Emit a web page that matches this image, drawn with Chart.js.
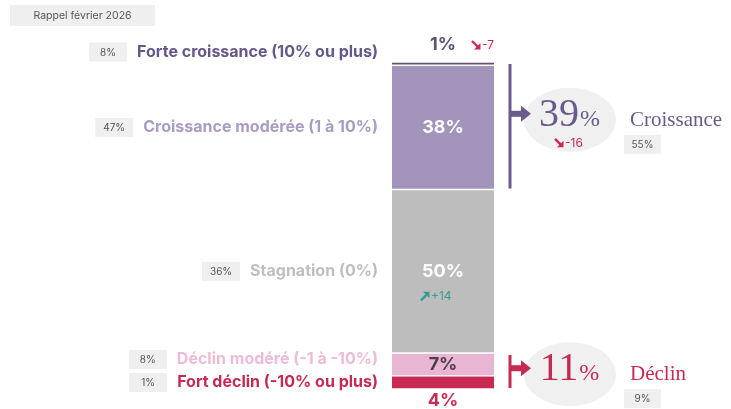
<!DOCTYPE html>
<html lang="fr">
<head>
<meta charset="UTF-8">
<title>Rappel février 2026</title>
<script src="https://cdn.jsdelivr.net/npm/chart.js"></script>
<style>
  html, body { margin: 0; padding: 0; background: #fff; }
  #wrap { width: 731px; height: 409px; position: relative; }
</style>
</head>
<body>
<div id="wrap"><canvas id="chart"></canvas></div>
<script>
// data
const categories = [
  'Forte croissance (10% ou plus)',
  'Croissance modérée (1 à 10%)',
  'Stagnation (0%)',
  'Déclin modéré (-1 à -10%)',
  'Fort déclin (-10% ou plus)'
];
const values = [1, 38, 50, 7, 4];
const rappel = [8, 47, 36, 8, 1];
const evolution = [-7, null, 14, null, null];
const rappelTitle = 'Rappel février 2026';

const groupNames = ['Croissance', 'Déclin'];
const groupMembers = [[0, 1], [3, 4]];
const groupValues = [39, 11];
const groupRappel = [55, 9];
const groupEvolution = [-16, null];

// styles
const segColors = ['#5f5273', '#a394bc', '#bdbdbd', '#e8b6d2', '#c92a52'];
const labelColors = ['#65578a', '#a99cc4', '#bfbfbf', '#eebbd6', '#c62a52'];
const valueColors = ['#5f5273', '#ffffff', '#ffffff', '#4d3c4c', '#c92a52'];
const groupColors = ['#6b5b8c', '#c62a52'];
const RED = '#c92a52', TEAL = '#3a9a8f';
const SANS = 'Inter, "Noto Sans", sans-serif';
const SERIF = '"Liberation Serif", "DejaVu Serif", serif';

function greyBox(ctx, x, y, w, h, text, size) {
  ctx.fillStyle = '#efefef';
  ctx.fillRect(x, y, w, h);
  ctx.fillStyle = '#555';
  ctx.font = `400 ${size}px ${SANS}`;
  ctx.textAlign = 'center';
  ctx.textBaseline = 'middle';
  ctx.fillText(text, x + w / 2, y + h / 2 + 0.5);
}

function smallArrow(ctx, x, y, up, color) {
  // 8x8 diagonal arrow, (x,y) = centre
  ctx.save();
  ctx.strokeStyle = color;
  ctx.fillStyle = color;
  ctx.lineWidth = 2.4;
  const s = up ? -1 : 1;
  ctx.beginPath();
  ctx.moveTo(x - 4, y - 4 * s);
  ctx.lineTo(x + 2, y + 2 * s);
  ctx.stroke();
  ctx.beginPath();
  ctx.moveTo(x + 4.5, y + 4.5 * s);
  ctx.lineTo(x + 4.5, y - 2 * s);
  ctx.lineTo(x - 2, y + 4.5 * s);
  ctx.closePath();
  ctx.fill();
  ctx.restore();
}

const annotations = {
  id: 'annotations',
  afterDraw(chart) {
    const ctx = chart.ctx;
    const area = chart.chartArea;
    ctx.save();

    greyBox(ctx, 10, 5, 145, 21, rappelTitle, 10.5);

    const segs = values.map((v, i) => {
      const el = chart.getDatasetMeta(i).data[0];
      return { x: el.x, top: Math.min(el.y, el.base), bot: Math.max(el.y, el.base) };
    });

    // category label rows
    const ly = segs.map((s, i) => i === 0 ? s.top - 10 : (s.top + s.bot) / 2);
    for (let i = ly.length - 2; i >= 0; i--) {
      if (ly[i] > ly[i + 1] - 23) ly[i] = ly[i + 1] - 23;
    }
    const labelX = area.left - 14;
    categories.forEach((c, i) => {
      ctx.font = `700 16px ${SANS}`;
      ctx.fillStyle = labelColors[i];
      ctx.textAlign = 'right';
      ctx.textBaseline = 'middle';
      ctx.fillText(c, labelX, ly[i]);
      const w = ctx.measureText(c).width;
      greyBox(ctx, labelX - w - 48, ly[i] - 9.5, 38, 19, rappel[i] + '%', 10);
    });

    // values on the bar
    segs.forEach((s, i) => {
      let vy = (s.top + s.bot) / 2;
      if (i === 0) vy = s.top - 17;
      if (i === segs.length - 1) vy = s.bot + 12;
      ctx.font = `700 18px ${SANS}`;
      ctx.fillStyle = valueColors[i];
      ctx.textAlign = 'center';
      ctx.textBaseline = 'middle';
      ctx.fillText(values[i] + '%', s.x, vy);
      const e = evolution[i];
      if (e !== null) {
        const txt = (e > 0 ? '+' : '') + e;
        const col = e > 0 ? TEAL : RED;
        let ax, ay;
        if (i === 0) { ax = s.x + 33; ay = vy; }
        else { ax = s.x - 18; ay = vy + 25; }
        smallArrow(ctx, ax, ay, e > 0, col);
        ctx.font = `400 12px ${SANS}`;
        ctx.fillStyle = col;
        ctx.textAlign = 'left';
        ctx.fillText(txt, ax + 6, ay + 0.5);
      }
    });

    // right-hand groups
    groupNames.forEach((name, g) => {
      const mem = groupMembers[g];
      const top = segs[mem[0]].top + 2;
      const bot = segs[mem[mem.length - 1]].bot - 1;
      const x = area.right + 16;
      const col = groupColors[g];
      const ay = top + 0.4 * (bot - top);

      ctx.fillStyle = '#f0f0f0';
      ctx.beginPath();
      ctx.ellipse(x + 60, ay + 6, 46, 32, 0, 0, Math.PI * 2);
      ctx.fill();

      ctx.fillStyle = col;
      ctx.fillRect(x - 1.5, top, 3, bot - top);
      ctx.fillRect(x, ay - 3, 12, 6);
      ctx.beginPath();
      ctx.moveTo(x + 11, ay - 8);
      ctx.lineTo(x + 21, ay);
      ctx.lineTo(x + 11, ay + 8);
      ctx.closePath();
      ctx.fill();

      // big number
      ctx.textBaseline = 'alphabetic';
      ctx.font = `400 40px ${SERIF}`;
      const num = String(groupValues[g]);
      const wn = ctx.measureText(num).width;
      ctx.font = `400 24px ${SERIF}`;
      const wp = ctx.measureText('%').width;
      const sx = x + 59 - (wn + wp) / 2;
      ctx.textAlign = 'left';
      ctx.font = `400 40px ${SERIF}`;
      ctx.fillText(num, sx, ay + 12);
      ctx.font = `400 24px ${SERIF}`;
      ctx.fillText('%', sx + wn + 1, ay + 12);

      const ge = groupEvolution[g];
      if (ge !== null) {
        smallArrow(ctx, x + 49, ay + 29, ge > 0, ge > 0 ? TEAL : RED);
        ctx.font = `400 12px ${SANS}`;
        ctx.fillStyle = ge > 0 ? TEAL : RED;
        ctx.textBaseline = 'middle';
        ctx.fillText((ge > 0 ? '+' : '') + ge, x + 55, ay + 29.5);
      }

      ctx.fillStyle = col;
      ctx.font = `400 21px ${SERIF}`;
      ctx.textBaseline = 'alphabetic';
      ctx.textAlign = 'left';
      ctx.fillText(name, x + 120, ay + 12);

      greyBox(ctx, x + 114, ay + 21, 37, 19, groupRappel[g] + '%', 10);
    });

    ctx.restore();
  }
};

new Chart(document.getElementById('chart'), {
  type: 'bar',
  data: {
    labels: [''],
    datasets: categories.map((c, i) => ({
      label: c,
      data: [values[i]],
      backgroundColor: segColors[i],
      borderColor: '#ffffff',
      borderWidth: { top: 1, bottom: 1, left: 0, right: 0 },
      borderSkipped: false,
      barPercentage: 1,
      categoryPercentage: 1
    }))
  },
  options: {
    responsive: true,
    maintainAspectRatio: false,
    animation: false,
    layout: { padding: { left: 392, right: 237, top: 62, bottom: 20 } },
    scales: {
      x: { stacked: true, display: false },
      y: { stacked: true, display: false, reverse: true, min: 0, max: 100 }
    },
    plugins: {
      legend: { display: false },
      tooltip: { enabled: false }
    }
  },
  plugins: [annotations]
});
</script>
</body>
</html>
